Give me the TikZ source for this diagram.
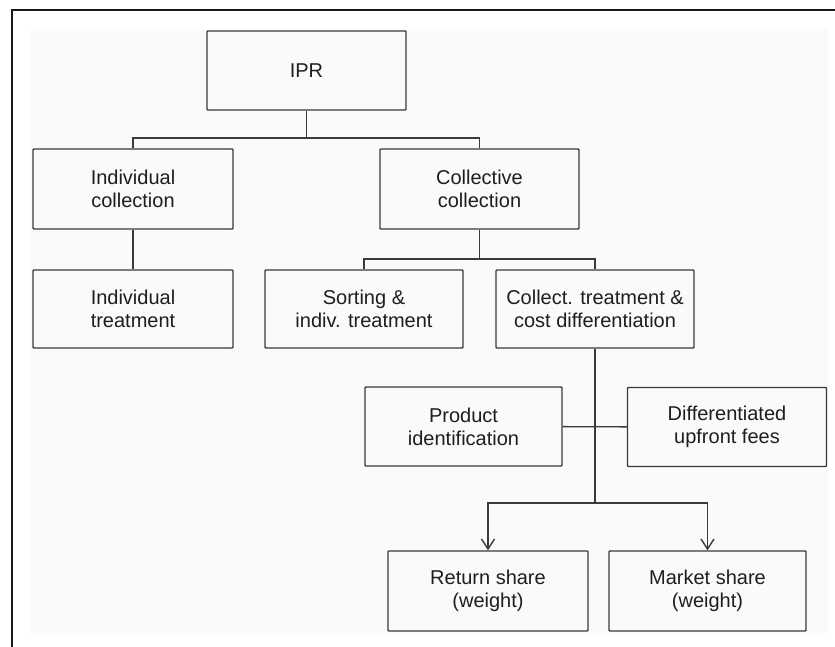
\documentclass[tikz,border=0pt]{standalone}
\usepackage{fontspec}
\setmainfont{Liberation Sans}
\usetikzlibrary{arrows.meta}

\definecolor{boxline}{HTML}{3A3A3A}
\definecolor{boxtext}{HTML}{1E1E1E}
\definecolor{paper}{HTML}{FAFAFA}

\begin{document}
\begin{tikzpicture}[x=1pt, y=-1pt,
    box/.style={draw=boxline, line width=1.4pt, rectangle, rounded corners=0.8pt,
      minimum width=199pt, minimum height=79pt, inner sep=0pt, align=center,
      text=boxtext, font=\fontsize{20}{23}\selectfont},
    link/.style={draw=boxline, line width=1.4pt},
    barb/.style={link, -{Straight Barb[length=10pt, width=13pt]}}]
  \useasboundingbox (0,0) rectangle (835,647);
  \fill [paper] (31,29) rectangle (828,633);
  \draw [line width=2pt, black!90] (12,647) -- (12,10) -- (835,10);

  \node [box] (ipr) at (306.5,70.5) {IPR};
  \node [box, minimum width=200pt, minimum height=80pt] (indcoll) at (133,189) {Individual\\collection};
  \node [box, minimum height=80pt] (collcoll) at (479.5,189) {Collective\\collection};
  \node [box, minimum width=200pt, minimum height=78pt] (indtreat) at (133,309) {Individual\\treatment};
  \node [box, minimum width=198pt, minimum height=78pt] (sorting) at (364,309) {Sorting \&\\indiv. treatment};
  \node [box, minimum width=198pt, minimum height=78pt] (colltreat) at (595,309) {Collect. treatment \&\\cost differentiation};
  \node [box, minimum width=197pt] (prodid) at (463.5,426.5) {Product\\identification};
  \node [box] (fees) at (727,427) {Differentiated\\upfront fees};
  \node [box, minimum width=200pt, minimum height=80pt] (retshare) at (488,591) {Return share\\(weight)};
  \node [box, minimum width=197pt, minimum height=80pt] (mktshare) at (707.5,591) {Market share\\(weight)};

  % tree connectors
  \coordinate (iprsplit) at (306.5,138);
  \draw [link] (ipr) -- (iprsplit);
  \draw [link] (indcoll) |- (iprsplit) -| (collcoll);
  \draw [link] (indcoll) -- (indtreat);

  \coordinate (collsplit) at (479.5,259);
  \draw [link] (collcoll) -- (collsplit);
  \draw [link] (sorting) |- (collsplit) -| (colltreat);

  \coordinate (sharesplit) at (595,503);
  \draw [link] (colltreat) -- (sharesplit);
  \draw [link] (prodid) -- (fees);
  \draw [barb] (sharesplit) -| (retshare);
  \draw [barb] (sharesplit) -| (mktshare);
\end{tikzpicture}
\end{document}
